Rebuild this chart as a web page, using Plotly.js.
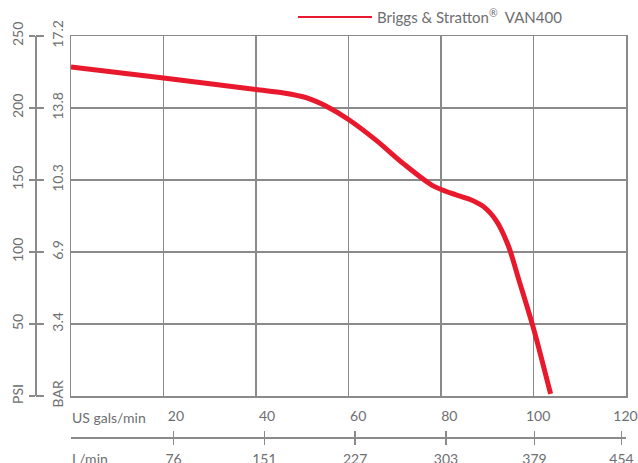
<!DOCTYPE html>
<html>
<head>
<meta charset="utf-8">
<script src="https://cdn.plot.ly/plotly-3.0.1.min.js"></script>
<style>html,body{margin:0;padding:0;background:#fff;}#chart{width:638px;height:463px;}</style>
</head>
<body>
<div id="chart"></div>
<script>
// Pump curve: flow (US gal/min) vs pressure (PSI)
var flowGpm = [0, 20, 40, 46, 51, 55, 60, 66, 72, 78, 82, 86.3, 89.2, 92, 94.6, 96.8, 100, 103.7];
var pressurePsi = [228.5, 220.8, 212.8, 210.4, 207, 201.5, 192, 177.5, 161, 146.5, 141, 136.5, 131.5, 121.5, 104, 81, 47, 1.4];
var seriesName = 'Briggs & Stratton<sup>®</sup>  VAN400';

// Tick labels
var psiTicks = [0, 50, 100, 150, 200, 250];
var psiLabels = ['PSI', '50', '100', '150', '200', '250'];
var barLabels = ['BAR', '3.4', '6.9', '10.3', '13.8', '17.2'];
var gpmLabels = ['20', '40', '60', '80', '100', '120'];
var lpmLabels = ['76', '151', '227', '303', '379', '454'];
// where the flow-scale labels sit on the chart's gal/min scale
var flowTickPos = [22.7, 42.4, 62.1, 81.8, 101, 119.9];

var W = 638, H = 463;
var paperW = W - 12;
var gray = '#8a8a8a';
var textGray = '#6d6e71';
var font = {family: 'Lato, sans-serif', size: 14, color: textGray};
var xDom = [71 / paperW, 1];
var yDom = [(H - 396) / H, (H - 36) / H];
var leftPos = 35 / paperW;
var lpmShift = 2 * 120 / 555;
var lpmRange = [0, 120 * (626 - 71) / (626 - 73)];

var trace = {
  x: flowGpm, y: pressurePsi, type: 'scatter', mode: 'lines',
  line: {color: '#e8192c', width: 5, shape: 'spline', smoothing: 0.8},
  name: seriesName, showlegend: false, hoverinfo: 'skip'
};

var layout = {
  width: W, height: H,
  margin: {l: 0, r: 12, t: 0, b: 0},
  paper_bgcolor: '#fff', plot_bgcolor: '#fff',
  font: font,
  showlegend: false,
  xaxis: {domain: xDom, range: [0, 120], dtick: 20, showgrid: true, gridcolor: gray, gridwidth: 1.5,
    showline: true, linecolor: gray, linewidth: 1.5, mirror: true, zeroline: false,
    showticklabels: false, ticks: '', fixedrange: true},
  yaxis: {domain: yDom, range: [0, 250], dtick: 50, showgrid: true, gridcolor: gray, gridwidth: 1.5,
    showline: true, linecolor: gray, linewidth: 1.5, mirror: true, zeroline: false,
    showticklabels: false, ticks: '', fixedrange: true},
  // US gal/min labels row
  xaxis2: {overlaying: 'x', anchor: 'free', position: (H - 406) / H, domain: xDom, range: [0, 120],
    tickmode: 'array', tickvals: flowTickPos, ticktext: gpmLabels, showgrid: false, zeroline: false,
    showline: false, ticks: '', tickfont: font},
  // L/min scale (ticks crossing the line: inside + outside)
  xaxis3: {overlaying: 'x', anchor: 'free', position: (H - 437) / H, domain: [73 / paperW, 1], range: lpmRange,
    tickmode: 'array', tickvals: flowTickPos.map(function (v) { return v - lpmShift; }), ticktext: lpmLabels,
    showgrid: false, zeroline: false, showline: true, linecolor: gray, linewidth: 1.5,
    ticks: 'outside', ticklen: 6, tickwidth: 1.5, tickcolor: gray, tickfont: font, ticklabelstandoff: 3},
  xaxis4: {overlaying: 'x', anchor: 'free', position: (H - 437) / H, domain: [73 / paperW, 1], range: lpmRange,
    tickmode: 'array', tickvals: [0].concat(flowTickPos.map(function (v) { return v - lpmShift; })), showticklabels: false,
    showgrid: false, zeroline: false, showline: false,
    ticks: 'inside', ticklen: 6, tickwidth: 1.5, tickcolor: gray},
  // PSI scale (left of line)
  yaxis2: {overlaying: 'y', anchor: 'free', position: leftPos, side: 'left', domain: yDom, range: [0, 250],
    tickmode: 'array', tickvals: psiTicks, ticktext: psiLabels, tickangle: -90,
    showgrid: false, zeroline: false, showline: true, linecolor: gray, linewidth: 1.5,
    ticks: 'outside', ticklen: 6, tickwidth: 1.5, tickcolor: gray, tickfont: font},
  // BAR scale (right of line)
  yaxis3: {overlaying: 'y', anchor: 'free', position: leftPos, side: 'right', domain: yDom, range: [0, 250],
    tickmode: 'array', tickvals: psiTicks, ticktext: barLabels, tickangle: -90,
    showgrid: false, zeroline: false, showline: false,
    ticks: 'outside', ticklen: 8, tickwidth: 1.5, tickcolor: gray, tickfont: font, ticklabelstandoff: 2},
  shapes: [
    {type: 'line', xref: 'paper', yref: 'paper', x0: 298 / paperW, x1: 372 / paperW, y0: (H - 17) / H, y1: (H - 17) / H,
      line: {color: '#e8192c', width: 2}}
  ],
  annotations: [
    {xref: 'paper', yref: 'paper', x: 375 / paperW, y: (H - 17) / H, xanchor: 'left', yanchor: 'middle',
      text: seriesName, showarrow: false, font: {family: font.family, size: 15, color: textGray}},
    {xref: 'paper', yref: 'paper', x: 70 / paperW, y: (H - 417) / H, xanchor: 'left', yanchor: 'middle',
      text: 'US gals/min', showarrow: false, font: font},
    {xref: 'paper', yref: 'paper', x: 70 / paperW, y: (H - 458) / H, xanchor: 'left', yanchor: 'middle',
      text: 'L/min', showarrow: false, font: font}
  ]
};

// invisible helper traces that activate the extra axes
var dummies = [
  {x: [0], y: [0], xaxis: 'x2', yaxis: 'y2', mode: 'markers', marker: {opacity: 0}, hoverinfo: 'skip', showlegend: false},
  {x: [0], y: [0], xaxis: 'x3', yaxis: 'y3', mode: 'markers', marker: {opacity: 0}, hoverinfo: 'skip', showlegend: false},
  {x: [0], y: [0], xaxis: 'x4', yaxis: 'y3', mode: 'markers', marker: {opacity: 0}, hoverinfo: 'skip', showlegend: false}
];

Plotly.newPlot('chart', dummies.concat([trace]), layout, {staticPlot: true, displayModeBar: false});
</script>
</body>
</html>
